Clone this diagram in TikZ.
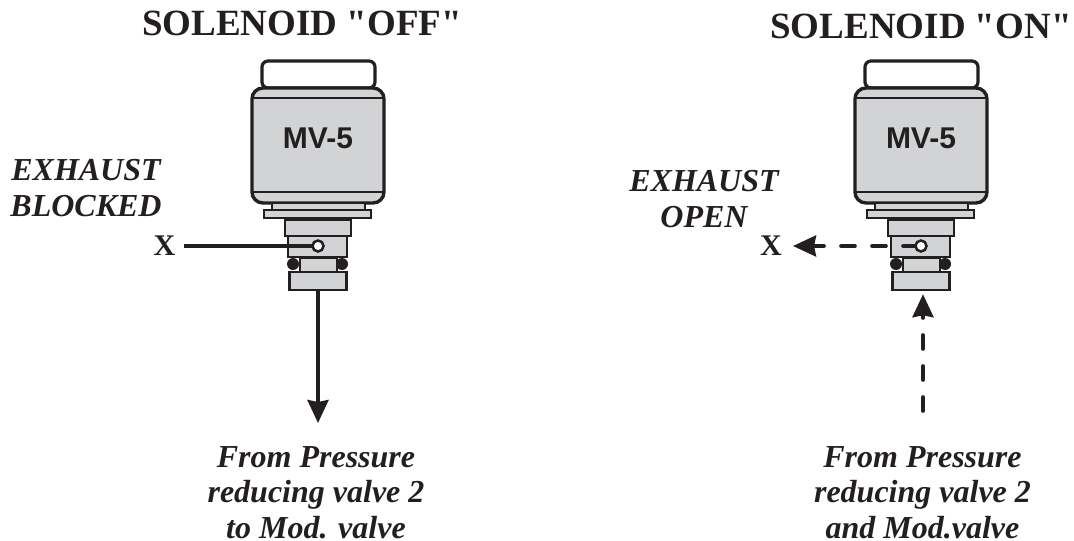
\documentclass[tikz,border=0pt]{standalone}
\usepackage{fontspec}
\setmainfont{Liberation Serif}
\newfontfamily\mvfont{Liberation Sans}
\usepackage{xcolor}
\usepackage{tikz}
\usetikzlibrary{arrows.meta}
\definecolor{ink}{RGB}{35,31,32}
\definecolor{steel}{RGB}{209,211,212}

\begin{document}
\begin{tikzpicture}[x=1pt,y=-1pt,
 part/.style={draw=ink,line width=2.5pt,fill=steel},
 shell/.style={draw=ink,line width=3.4pt,fill=steel,rounded corners=11pt},
 seal/.style={circle,fill=ink,draw=none,inner sep=0pt,minimum size=12pt},
 port/.style={circle,draw=ink,line width=2.5pt,fill=white,inner sep=0pt,minimum size=11pt},
 head/.style={font=\bfseries\fontsize{37}{40}\selectfont,text=ink,inner sep=0pt,anchor=base},
 note/.style={font=\bfseries\itshape\fontsize{32}{35.5}\selectfont,text=ink,align=center,inner sep=0pt},
 tag/.style={font=\bfseries\fontsize{30}{32}\selectfont,text=ink,inner sep=0pt},
 flow/.style={draw=ink,line width=3.6pt},
 air/.style={flow,line cap=round,dash pattern=on 14pt off 17pt},
 tip/.style={-{Stealth[length=23pt,width=21pt,inset=2pt]}},
 valve/.pic={
  \draw[draw=ink,line width=3.2pt,fill=white,rounded corners=6pt] (-56,-185)--(-56,-158)--(57,-158)--(57,-185)--cycle;
  \draw[shell] (-66,-158) rectangle (66,-43);
  \draw[ink,line width=2pt] (-65,-148)--(65,-148) (-65,-54)--(65,-54);
  \node[font=\mvfont\bfseries\fontsize{30}{32}\selectfont,text=ink,inner sep=0pt] (-label) at (0,-108) {MV-5};
  \draw[part] (-46,-43) rectangle (47,-36);
  \draw[part] (-54,-36) rectangle (53,-28);
  \draw[part] (-33,-26) rectangle (33,-10);
  \draw[part] (-30,-10) rectangle (29,11);
  \draw[part] (-18,12) rectangle (19,26);
  \node[seal] (-sealw) at (-25,18) {};
  \node[seal] (-seale) at (24,18) {};
  \node[part,rectangle,inner sep=0pt,minimum width=57pt,minimum height=18pt] (-base) at (0,35) {};
  \coordinate (-port) at (0,0);
 }]
 \useasboundingbox (0,0) rectangle (1074,541);
 % left valve
 \node[head] (titleoff) at (302,35) {SOLENOID \textquotedbl OFF\textquotedbl};
 \pic (off) at (318,246) {valve};
 \node[tag] (xoff) at (164.5,246) {X};
 \draw[flow,shorten <=8pt] (xoff.east)--(off-port);
 \node[port] (holeoff) at (off-port) {};
 \coordinate (endoff) at (318,423);
 \draw[flow,tip] (off-base.south)--(off-base.south |- endoff);
 \node[note] (noteoff) at (316,492.5) {From Pressure\\reducing valve 2\\to Mod. valve};
 \node[note] (blocked) at (86,188) {EXHAUST\\BLOCKED};
 % right valve
 \node[head] (titleon) at (921,38) {SOLENOID \textquotedbl ON\textquotedbl};
 \pic (on) at (921,246) {valve};
 \node[tag] (xon) at (771,246) {X};
 \draw[air,tip,shorten <=4pt,shorten >=11pt] (on-port)--(xon.east);
 \node[port] (holeon) at (on-port) {};
 \coordinate (starton) at (923,411);
 \draw[air,tip,shorten >=3pt] (starton)--(starton |- on-base.south);
 \node[note] (noteon) at (922.5,492.5) {From Pressure\\reducing valve 2\\and Mod.valve};
 \node[note] (open) at (704,199) {EXHAUST\\OPEN};
\end{tikzpicture}
\end{document}
